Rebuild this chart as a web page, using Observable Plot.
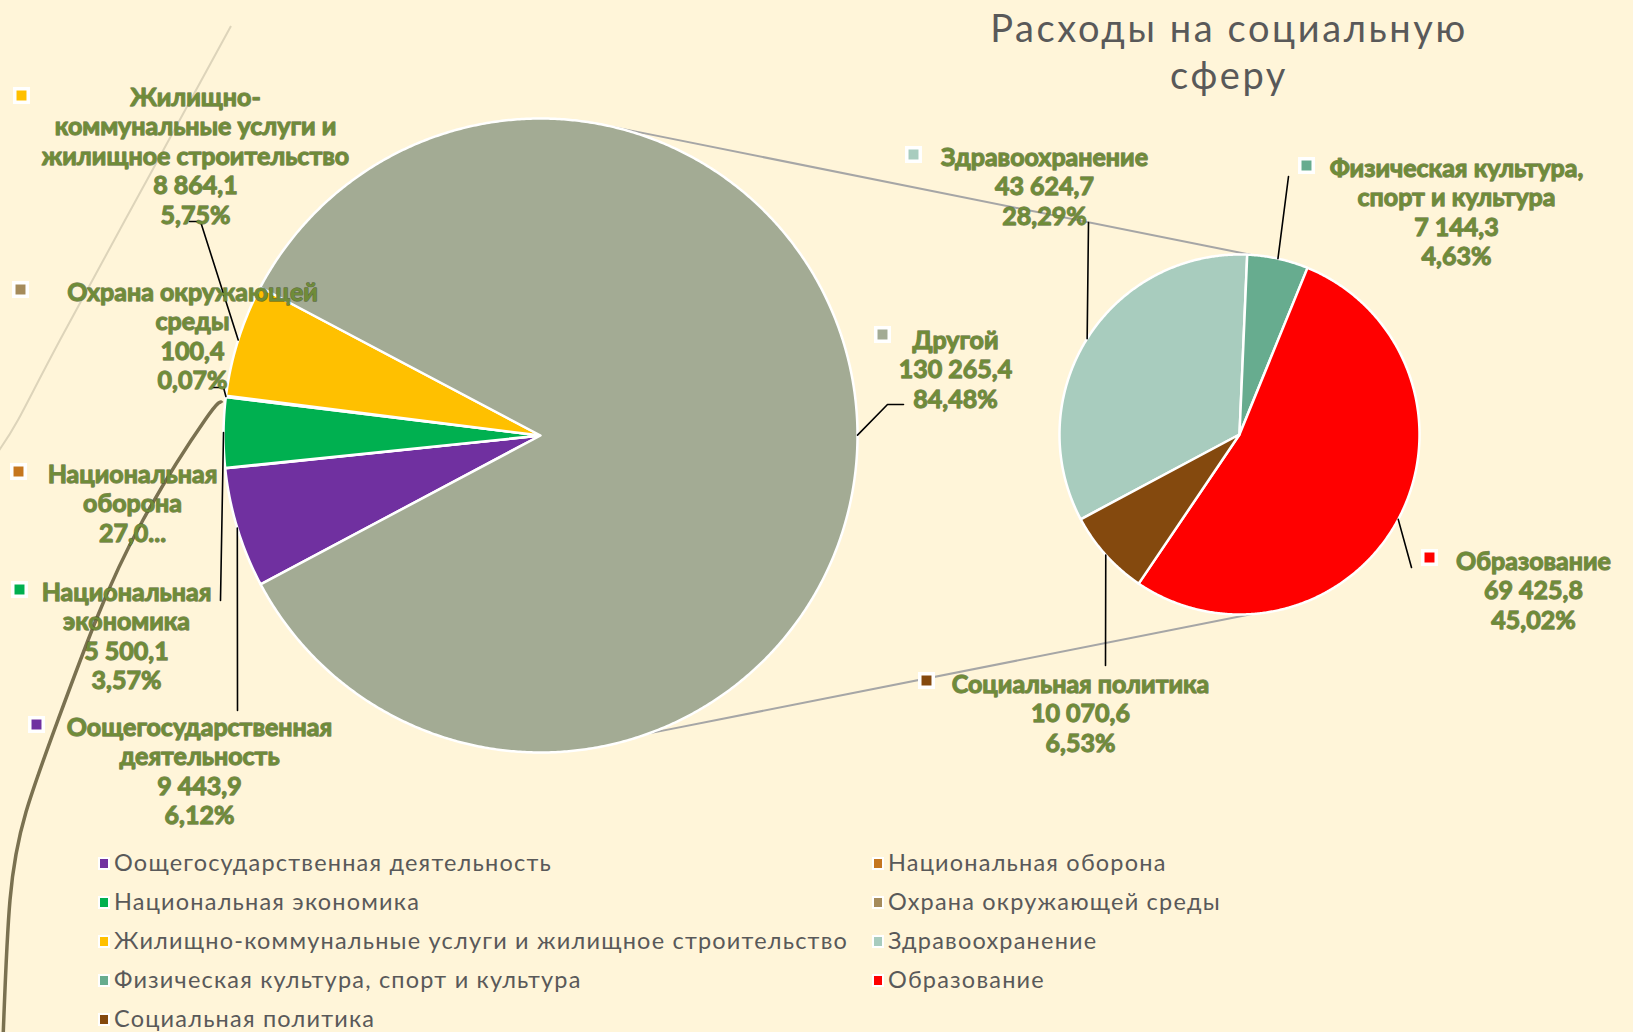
<!DOCTYPE html>
<html>
<head>
<meta charset="utf-8">
<script src="https://cdn.jsdelivr.net/npm/d3@7"></script>
<script src="https://cdn.jsdelivr.net/npm/@observablehq/plot@0.6"></script>
<style>
  html, body { margin: 0; padding: 0; background: #FFF5D9; }
  #wrap { position: relative; width: 1633px; height: 1032px; overflow: hidden; background-color: #FFF5D9; background-repeat: no-repeat; }
  #chart { position: absolute; left: 0; top: 0; }
  #title { position: absolute; left: 879px; top: 4px; width: 700px; text-align: center;
           font-family: Lato, "Open Sans", sans-serif; font-size: 38px; line-height: 47px; color: #595959; letter-spacing: 2.6px; }
  .leg { position: absolute; font-family: Lato, "Open Sans", sans-serif; font-size: 23.5px; color: #595959; white-space: nowrap; line-height: 28px; letter-spacing: 1.2px; }
  .leg i { position: absolute; left: -16px; top: 9px; width: 8px; height: 9px; border: 2px solid #fff; box-sizing: content-box; }
</style>
</head>
<body>
<div id="wrap">
  <div id="chart"></div>
  <div id="title"></div>
</div>
<script>
// ---------------- DATA ----------------
const titleLines = ["Расходы на социальную", "сферу"];

const mainCategories = [
  "Оощегосударственная деятельность",
  "Национальная оборона",
  "Национальная экономика",
  "Охрана окружающей среды",
  "Жилищно-коммунальные услуги и жилищное строительство",
  "Другой"
];
const mainValues = [9443.9, 27.0, 5500.1, 100.4, 8864.1, 130265.4];

const subCategories = [
  "Здравоохранение",
  "Физическая культура, спорт и культура",
  "Образование",
  "Социальная политика"
];
const subValues = [43624.7, 7144.3, 69425.8, 10070.6];

const legendOrder = [
  "Оощегосударственная деятельность",
  "Национальная оборона",
  "Национальная экономика",
  "Охрана окружающей среды",
  "Жилищно-коммунальные услуги и жилищное строительство",
  "Здравоохранение",
  "Физическая культура, спорт и культура",
  "Образование",
  "Социальная политика"
];

// label text line breaks (as in the picture)
const labelNameLines = {
  "Оощегосударственная деятельность": ["Оощегосударственная", "деятельность"],
  "Национальная оборона": ["Национальная", "оборона"],
  "Национальная экономика": ["Национальная", "экономика"],
  "Охрана окружающей среды": ["Охрана окружающей", "среды"],
  "Жилищно-коммунальные услуги и жилищное строительство": ["Жилищно-", "коммунальные услуги и", "жилищное строительство"],
  "Другой": ["Другой"],
  "Здравоохранение": ["Здравоохранение"],
  "Физическая культура, спорт и культура": ["Физическая культура,", "спорт и культура"],
  "Образование": ["Образование"],
  "Социальная политика": ["Социальная политика"]
};
const truncatedLabels = ["Национальная оборона"];

// ---------------- STYLE / LAYOUT ----------------
const colors = {
  "Оощегосударственная деятельность": "#7030A0",
  "Национальная оборона": "#C5761F",
  "Национальная экономика": "#00B050",
  "Охрана окружающей среды": "#A58B5B",
  "Жилищно-коммунальные услуги и жилищное строительство": "#FFC000",
  "Другой": "#A3AB94",
  "Здравоохранение": "#A8CCBE",
  "Физическая культура, спорт и культура": "#67AC8F",
  "Образование": "#FF0000",
  "Социальная политика": "#84490E"
};
const W = 1633, H = 845;
const bigPie = {cx: 540, cy: 435, r: 317, start: 242};
const smallPie = {cx: 1239, cy: 434, r: 180, start: -118.1};
const connectorAngles = [[13.6, 3.5], [160, 176]]; // [big pie angle, small pie angle]
const LH = 29.5;
// label placement: centre x, first line centre y, key marker, leader hook points
const labelLayout = {
  "Жилищно-коммунальные услуги и жилищное строительство": {cx: 195, y: 97, kx: 21, ky: 95, hook: [[200, 221], [189, 221]]},
  "Охрана окружающей среды": {cx: 192, y: 292, kx: 20, ky: 289, hook: [[223, 387], [212, 387]]},
  "Национальная оборона": {cx: 132, y: 474, kx: 18, ky: 471, hook: null},
  "Национальная экономика": {cx: 126, y: 592, kx: 19, ky: 589, hook: [[220, 600]]},
  "Оощегосударственная деятельность": {cx: 199, y: 727, kx: 36, ky: 724, hook: [[237, 710]]},
  "Другой": {cx: 955, y: 340, kx: 882, ky: 334, hook: [[887, 404], [903, 404]]},
  "Здравоохранение": {cx: 1044, y: 157, kx: 913, ky: 154, hook: [[1088, 222]]},
  "Физическая культура, спорт и культура": {cx: 1456, y: 168, kx: 1306, ky: 165, hook: [[1288, 176]]},
  "Образование": {cx: 1533, y: 561, kx: 1429, ky: 557, hook: [[1411, 567]]},
  "Социальная политика": {cx: 1080, y: 684, kx: 926, ky: 680, hook: [[1105, 665]]}
};

// ---------------- COMPUTE ----------------
const rad = d => d * Math.PI / 180;
const grandTotal = d3.sum(mainValues);
const fmtNum = v => d3.format(",.1f")(v).replace(/,/g, " ").replace(".", ",");
const fmtPct = v => (v / grandTotal * 100).toFixed(2).replace(".", ",") + "%";

function pt(pie, a, r = pie.r) {
  return {x: pie.cx + r * Math.sin(a), y: pie.cy - r * Math.cos(a)};
}
function buildPie(names, values, pie) {
  const arcs = d3.pie().sort(null).value(d => d)
    .startAngle(rad(pie.start)).endAngle(rad(pie.start + 360))(values);
  return arcs.map((a, i) => {
    const n = Math.max(2, Math.ceil((a.endAngle - a.startAngle) / rad(0.4)));
    const pts = [{x: pie.cx, y: pie.cy}];
    for (let k = 0; k <= n; k++) pts.push(pt(pie, a.startAngle + (a.endAngle - a.startAngle) * k / n));
    return {name: names[i], value: values[i], mid: (a.startAngle + a.endAngle) / 2, pts, pie};
  });
}
const bigSlices = buildPie(mainCategories, mainValues, bigPie);
const smallSlices = buildPie(subCategories, subValues, smallPie);
const allSlices = [...bigSlices, ...smallSlices];

// connectors
const connectorPts = connectorAngles.flatMap(([a, b], i) => [
  {...pt(bigPie, rad(a)), id: i}, {...pt(smallPie, rad(b)), id: i}
]);

// leaders
const leaderPts = [];
allSlices.forEach(s => {
  const L = labelLayout[s.name];
  if (!L || !L.hook) return;
  leaderPts.push({...pt(s.pie, s.mid), id: s.name});
  L.hook.forEach(([x, y]) => leaderPts.push({x, y, id: s.name}));
});

// label text rows
const labelRows = [];
const keyDots = [];
allSlices.forEach(s => {
  const L = labelLayout[s.name];
  if (!L) return;
  let lines = [...labelNameLines[s.name]];
  if (truncatedLabels.includes(s.name)) lines.push(fmtNum(s.value) + "...");
  else lines.push(fmtNum(s.value), fmtPct(s.value));
  lines.forEach((t, i) => labelRows.push({x: L.cx, y: L.y + i * LH, text: t}));
  keyDots.push({x: L.kx, y: L.ky, color: colors[s.name]});
});

// ---------------- DECORATION (background arcs) ----------------
const decoOlive = [[222,403],[205,420],[143,520],[96,620],[58,720],[26,812],[10,900],[3,1040]];
const decoThin = [[231,26],[147,180],[60,340],[18,420],[-2,452]];
const lineGen = d3.line().curve(d3.curveNatural);
const decoSvg = `<svg xmlns='http://www.w3.org/2000/svg' width='1633' height='1032'>` +
  `<path d='${lineGen(decoThin)}' fill='none' stroke='#DDD4BA' stroke-width='2'/>` +
  `<path d='${lineGen(decoOlive)}' fill='none' stroke='#7A7150' stroke-width='3.5'/></svg>`;
document.getElementById("wrap").style.backgroundImage = `url("data:image/svg+xml,${encodeURIComponent(decoSvg)}")`;

// ---------------- PLOT ----------------
const labelFont = "Lato, 'Open Sans', sans-serif";
const plot = Plot.plot({
  width: W, height: H,
  margin: 0,
  x: {domain: [0, W], range: [0, W], axis: null},
  y: {domain: [0, H], range: [0, H], axis: null},
  style: {background: "transparent", overflow: "visible"},
  marks: [
    Plot.line(connectorPts, {x: "x", y: "y", z: "id", stroke: "#A6A6A6", strokeWidth: 2}),
    ...allSlices.map(s => Plot.line(s.pts, {
      x: "x", y: "y", fill: colors[s.name], stroke: "white", strokeWidth: 2.5,
      strokeLinejoin: "round", curve: "linear-closed"
    })),
    Plot.line(leaderPts, {x: "x", y: "y", z: "id", stroke: "#000", strokeWidth: 1.6}),
    Plot.text(labelRows, {
      x: "x", y: "y", text: "text", fontSize: 25, fontWeight: "bold", fontFamily: labelFont,
      fill: "#6F8C38", stroke: "#45571F", strokeOpacity: 0.7, strokeWidth: 1.3, paintOrder: "stroke"
    }),
    Plot.dot(keyDots, {x: "x", y: "y", symbol: "square", r: 7.6, fill: "color", stroke: "white", strokeWidth: 3.5})
  ]
});
document.getElementById("chart").appendChild(plot);

// title
d3.select("#title").selectAll("div").data(titleLines).join("div").text(d => d);

// legend
const wrap = d3.select("#wrap");
legendOrder.forEach((name, i) => {
  const col = i % 2, row = Math.floor(i / 2);
  const left = col ? 888 : 114;
  const top = 848 + row * 39;
  const d = wrap.append("div").attr("class", "leg").style("left", left + "px").style("top", top + "px");
  d.append("i").style("background", colors[name]);
  d.append("span").text(name);
});
</script>
</body>
</html>
